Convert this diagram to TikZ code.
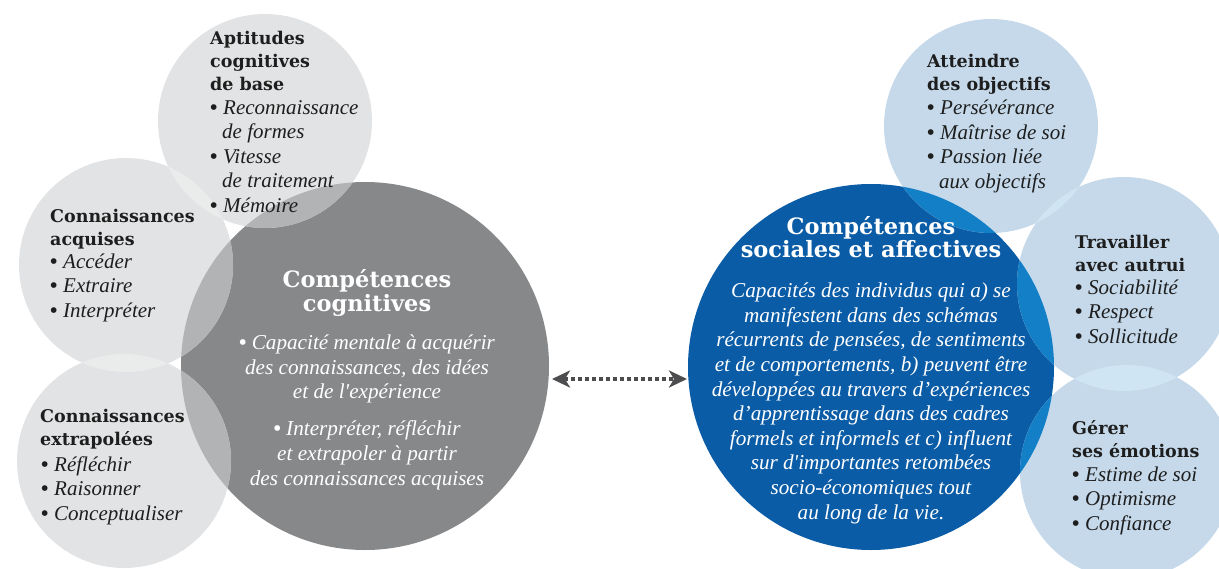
\documentclass[tikz,border=0pt]{standalone}
\usepackage{fontspec}
\setmainfont{Liberation Serif}[Ligatures=TeXOff]
\newfontfamily\hdfont{DejaVu Serif}[Ligatures=TeXOff]
\usetikzlibrary{arrows.meta}
\definecolor{lgrey}{HTML}{E2E3E4}
\definecolor{lgover}{HTML}{EAEBEB}
\definecolor{dgrey}{HTML}{87888A}
\definecolor{mgrey}{HTML}{B2B3B5}
\definecolor{dblue}{HTML}{0B5CA6}
\definecolor{lblue}{HTML}{C5D9EA}
\definecolor{lbover}{HTML}{CFE5F3}
\definecolor{mblue}{HTML}{137FC7}
\definecolor{ink}{HTML}{1E1E1E}
\definecolor{arr}{HTML}{4D4D4F}
\newcommand\bul{\makebox[13pt][l]{\upshape\bfseries •}}
\newcommand\cont{\hspace*{12pt}}
\newcommand\gbul{{\upshape\bfseries •}}
\tikzset{
  bubble/.style={circle, inner sep=0pt, minimum size=214pt},
  smallhd/.style={font=\hdfont\bfseries\fontsize{17.5}{23}\selectfont, align=left, text=ink, inner sep=0pt, anchor=base west},
  smallit/.style={font=\itshape\fontsize{21}{24.4}\selectfont, align=left, text=ink, inner sep=0pt, anchor=base west},
  bighd/.style={font=\hdfont\bfseries\fontsize{22.5}{23.5}\selectfont, align=center, text=white, inner sep=0pt, anchor=base},
  bigit/.style={font=\itshape\fontsize{21.2}{24.6}\selectfont, align=center, text=white, inner sep=0pt, anchor=base},
  arrowline/.style={draw=arr, line width=4.5pt, dash pattern=on 4pt off 3pt,
    {Stealth[length=18pt,width=17pt,inset=5pt]}-{Stealth[length=18pt,width=17pt,inset=5pt]}}
}
\begin{document}
\begin{tikzpicture}[x=1pt,y=-1pt]
\useasboundingbox (0,0) rectangle (1219,568);
\clip (0,0) rectangle (1219,568);
% cognitive side
\node[bubble, minimum size=368pt, fill=dgrey] (G) at (365,366) {};
\node[bubble, fill=lgrey] (C1) at (265,121) {};
\node[bubble, fill=lgrey] (C2) at (126,265) {};
\node[bubble, fill=lgrey] (C3) at (124,461) {};
\begin{scope}\clip (C1.center) circle[radius=107pt]; \fill[lgover] (C2.center) circle[radius=107pt];\end{scope}
\begin{scope}\clip (C2.center) circle[radius=107pt]; \fill[lgover] (C3.center) circle[radius=107pt];\end{scope}
\begin{scope}\clip (G.center) circle[radius=184pt]; \fill[mgrey] (C1.center) circle[radius=107pt];\end{scope}
\begin{scope}\clip (G.center) circle[radius=184pt]; \fill[mgrey] (C2.center) circle[radius=107pt];\end{scope}
\begin{scope}\clip (G.center) circle[radius=184pt]; \fill[mgrey] (C3.center) circle[radius=107pt];\end{scope}
% social side
\node[bubble, minimum size=366pt, fill=dblue] (B) at (871,367) {};
\node[bubble, fill=lblue] (R1) at (991,126) {};
\node[bubble, fill=lblue] (R2) at (1124,284) {};
\node[bubble, fill=lblue] (R3) at (1127,472) {};
\begin{scope}\clip (R1.center) circle[radius=107pt]; \fill[lbover] (R2.center) circle[radius=107pt];\end{scope}
\begin{scope}\clip (R2.center) circle[radius=107pt]; \fill[lbover] (R3.center) circle[radius=107pt];\end{scope}
\begin{scope}\clip (B.center) circle[radius=183pt]; \fill[mblue] (R1.center) circle[radius=107pt];\end{scope}
\begin{scope}\clip (B.center) circle[radius=183pt]; \fill[mblue] (R2.center) circle[radius=107pt];\end{scope}
\begin{scope}\clip (B.center) circle[radius=183pt]; \fill[mblue] (R3.center) circle[radius=107pt];\end{scope}
% arrow
\coordinate (aL) at (552,379);
\coordinate (aR) at (687,379);
\draw[arrowline] (aL) -- (aR);
% texts left (anchor = baseline of last line)
\node[smallhd] (h1) at (210,90) {Aptitudes\\cognitives\\de base};
\node[smallit] (l1) at (210,212) {\bul Reconnaissance\\\cont de formes\\\bul Vitesse\\\cont de traitement\\\bul Mémoire};
\node[smallhd] (h2) at (50,245.5) {Connaissances\\acquises};
\node[smallit] (l2) at (50,317) {\bul Accéder\\\bul Extraire\\\bul Interpréter};
\node[smallhd] (h3) at (40,445) {Connaissances\\extrapolées};
\node[smallit] (l3) at (41,520) {\bul Réfléchir\\\bul Raisonner\\\bul Conceptualiser};
\node[bighd] (gh) at (367,311) {Compétences\\cognitives};
\node[bigit] (gb) at (367,485) {\gbul\ Capacité mentale à acquérir\\des connaissances, des idées\\et de l'expérience\\[12.5pt]\gbul\ Interpréter, réfléchir\\et extrapoler à partir\\des connaissances acquises};
% texts right
\node[bighd] (bh) at (871,257.5) {Compétences\\sociales et affectives};
\node[bigit] (bb) at (871,519) {Capacités des individus qui a) se\\manifestent dans des schémas\\récurrents de pensées, de sentiments\\et de comportements, b) peuvent être\\développées au travers d’expériences\\d’apprentissage dans des cadres\\formels et informels et c) influent\\sur d'importantes retombées\\socio-économiques tout\\au long de la vie.};
\node[smallhd] (h4) at (927,90) {Atteindre\\des objectifs};
\node[smallit] (l4) at (927,188) {\bul Persévérance\\\bul Maîtrise de soi\\\bul Passion liée\\\cont aux objectifs};
\node[smallhd] (h5) at (1075,271) {Travailler\\avec autrui};
\node[smallit] (l5) at (1075,343) {\bul Sociabilité\\\bul Respect\\\bul Sollicitude};
\node[smallhd] (h6) at (1072,457) {Gérer\\ses émotions};
\node[smallit] (l6) at (1072,530) {\bul Estime de soi\\\bul Optimisme\\\bul Confiance};
\end{tikzpicture}
\end{document}
